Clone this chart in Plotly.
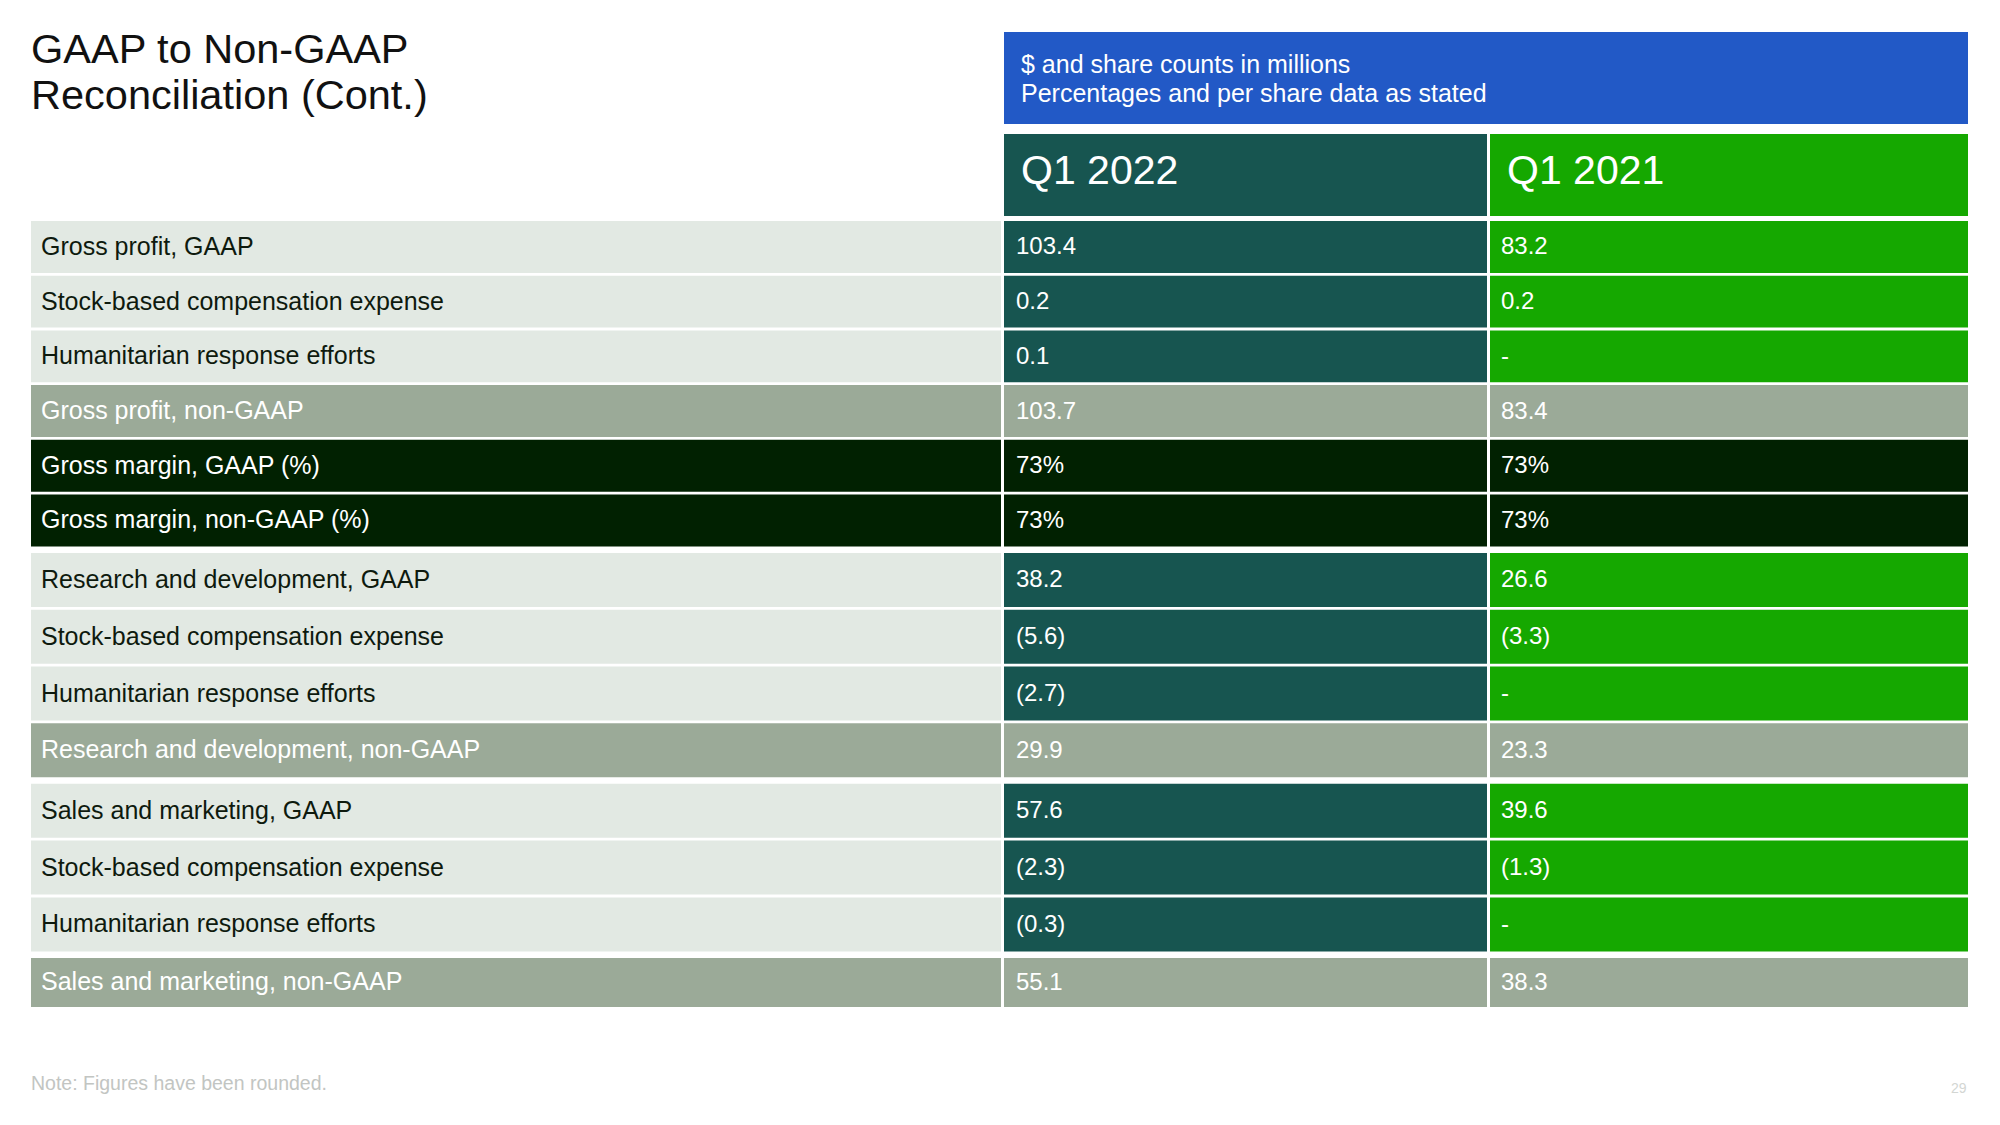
import plotly.graph_objects as go

# ---------------- data ----------------
title_lines = ["GAAP to Non-GAAP", "Reconciliation (Cont.)"]
units_lines = ["$ and share counts in millions", "Percentages and per share data as stated"]
column_headers = ["Q1 2022", "Q1 2021"]

row_labels = [
    "Gross profit, GAAP",
    "Stock-based compensation expense",
    "Humanitarian response efforts",
    "Gross profit, non-GAAP",
    "Gross margin, GAAP (%)",
    "Gross margin, non-GAAP (%)",
    "Research and development, GAAP",
    "Stock-based compensation expense",
    "Humanitarian response efforts",
    "Research and development, non-GAAP",
    "Sales and marketing, GAAP",
    "Stock-based compensation expense",
    "Humanitarian response efforts",
    "Sales and marketing, non-GAAP",
]
q1_2022 = [103.4, 0.2, 0.1, 103.7, 73, 73, 38.2, -5.6, -2.7, 29.9, 57.6, -2.3, -0.3, 55.1]
q1_2021 = [83.2, 0.2, None, 83.4, 73, 73, 26.6, -3.3, None, 23.3, 39.6, -1.3, None, 38.3]
row_kind = ["item", "item", "item", "total", "margin", "margin",
            "item", "item", "item", "total",
            "item", "item", "item", "total"]
row_group = [1, 1, 1, 1, 1, 1, 2, 2, 2, 2, 3, 3, 3, 4]

note_text = "Note: Figures have been rounded."
page_number = "29"

# ---------------- styling / layout constants ----------------
W, H = 2000, 1125
FONT = "Liberation Sans, Arial, Helvetica, sans-serif"

C_LABEL_BG = "#E2E9E3"
C_TOTAL = "#9BAA98"
C_MARGIN = "#012101"
C_TEAL = "#175550"
C_GREEN = "#15A800"
C_BLUE = "#2259C6"
C_TEXT_DARK = "#0E1A0E"

LABEL_X0, LABEL_W = 31, 970
COL_X0 = [1004, 1490]
COL_W = [483, 478]

TABLE_TOP = 221
GROUP_ROW_H = {1: 51.9, 2: 54.0, 3: 54.0, 4: 49.0}
INNER_SEP = 2.8
GROUP_GAP = 6.5

HEADER_TOP, HEADER_H = 134, 82
BLUE_TOP, BLUE_H = 32, 92

# compute row geometry
centers, heights = [], []
y = TABLE_TOP
prev_group = None
for g in row_group:
    if prev_group is not None:
        y += GROUP_GAP if g != prev_group else INNER_SEP
    h = GROUP_ROW_H[g]
    centers.append(y + h / 2)
    heights.append(h)
    y += h
    prev_group = g


def fmt(v, kind):
    if v is None:
        return "-"
    if kind == "margin":
        return f"{v:.0f}%"
    if v < 0:
        return f"({abs(v):.1f})"
    return f"{v:.1f}"


def bg_for(kind, normal):
    if kind == "total":
        return C_TOTAL
    if kind == "margin":
        return C_MARGIN
    return normal


n = len(row_labels)
fig = go.Figure()

# label column cells
fig.add_trace(go.Bar(
    orientation="h", y=centers, x=[LABEL_W] * n, base=[LABEL_X0] * n, width=heights,
    marker=dict(color=[bg_for(k, C_LABEL_BG) for k in row_kind], line=dict(width=0)),
    hoverinfo="skip", showlegend=False,
))
# value columns
for ci, (vals, normal) in enumerate([(q1_2022, C_TEAL), (q1_2021, C_GREEN)]):
    fig.add_trace(go.Bar(
        orientation="h", y=centers, x=[COL_W[ci]] * n, base=[COL_X0[ci]] * n, width=heights,
        marker=dict(color=[bg_for(k, normal) for k in row_kind], line=dict(width=0)),
        hoverinfo="skip", showlegend=False,
    ))
# column headers
fig.add_trace(go.Bar(
    orientation="h", y=[HEADER_TOP + HEADER_H / 2] * 2, x=COL_W, base=COL_X0,
    width=[HEADER_H] * 2, marker=dict(color=[C_TEAL, C_GREEN], line=dict(width=0)),
    hoverinfo="skip", showlegend=False,
))
# units box
fig.add_trace(go.Bar(
    orientation="h", y=[BLUE_TOP + BLUE_H / 2], x=[COL_X0[1] + COL_W[1] - COL_X0[0]],
    base=[COL_X0[0]], width=[BLUE_H], marker=dict(color=C_BLUE, line=dict(width=0)),
    hoverinfo="skip", showlegend=False,
))

ann = []


def text(x, y, s, size, color, anchor="left"):
    ann.append(dict(x=x, y=y, xref="x", yref="y", text=s, showarrow=False,
                    xanchor=anchor, yanchor="middle", borderpad=0,
                    font=dict(family=FONT, size=size, color=color)))


# title
text(LABEL_X0 - 1, 48, title_lines[0], 41.5, "#111111")
text(LABEL_X0 - 1, 94.5, title_lines[1], 41.5, "#111111")
# units
text(COL_X0[0] + 16, 64, units_lines[0], 25, "white")
text(COL_X0[0] + 16, 93, units_lines[1], 25, "white")
# headers
for ci, hd in enumerate(column_headers):
    text(COL_X0[ci] + 16, HEADER_TOP + HEADER_H / 2 - 5, hd, 41, "white")
# rows
for i in range(n):
    k = row_kind[i]
    lab_color = C_TEXT_DARK if k == "item" else "white"
    text(LABEL_X0 + 9, centers[i] - 1, row_labels[i], 25, lab_color)
    text(COL_X0[0] + 11, centers[i] - 1, fmt(q1_2022[i], k), 24, "white")
    text(COL_X0[1] + 10, centers[i] - 1, fmt(q1_2021[i], k), 24, "white")
# footer
text(LABEL_X0 - 1, 1083, note_text, 19.5, "#C2C5C2")
text(COL_X0[1] + COL_W[1], 1088, page_number, 14, "#D3D6D3", anchor="right")

fig.update_layout(
    width=W, height=H, margin=dict(l=0, r=0, t=0, b=0, pad=0),
    paper_bgcolor="white", plot_bgcolor="white",
    barmode="overlay", annotations=ann,
    xaxis=dict(range=[0, W], visible=False, fixedrange=True),
    yaxis=dict(range=[H, 0], visible=False, fixedrange=True),
)

fig.write_html("out.html", config={"displayModeBar": False},
               post_script="document.body.style.margin='0px';")
